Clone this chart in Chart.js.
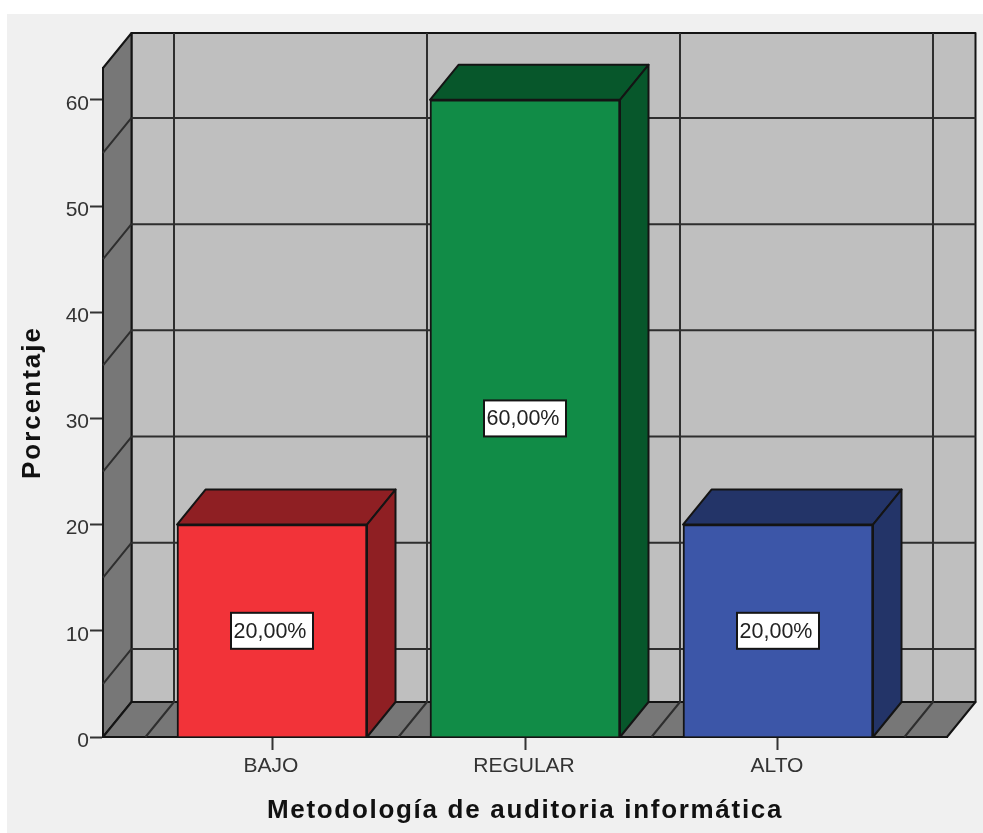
<!DOCTYPE html>
<html lang="es">
<head>
    <meta charset="UTF-8">
    <title>Metodología de auditoria informática</title>
    <script src="https://cdn.jsdelivr.net/npm/chart.js"></script>
    <style>
        html, body { margin: 0; padding: 0; background: #fff; overflow: hidden; }
        canvas { display: block; }
    </style>
</head>
<body>
    <canvas id="chart" width="983" height="833"></canvas>
    <script>
        const categories = ['BAJO', 'REGULAR', 'ALTO'];
        const porcentaje = [20, 60, 20];
        const valueLabels = ['20,00%', '60,00%', '20,00%'];
        const yTicks = [0, 10, 20, 30, 40, 50, 60];
        const wallGridValues = [5, 15, 25, 35, 45, 55];
        const categoryEdges = [-0.5, 0.5, 1.5, 2.5];

        const faceColors = ['#f23339', '#118c47', '#3c56a8'];
        const shadeColors = ['#8f1f23', '#07572b', '#233468'];

        const LINE = '#141414';
        const GRID = '#2e2e2e';
        const FONT = 'Liberation Sans, Arial, sans-serif';
        const DEPTH_X = 28.5;
        const DEPTH_Y = 35;

        function poly(ctx, points, fill) {
            ctx.beginPath();
            points.forEach((p, i) => i ? ctx.lineTo(p[0], p[1]) : ctx.moveTo(p[0], p[1]));
            ctx.closePath();
            ctx.fillStyle = fill;
            ctx.fill();
            ctx.stroke();
        }

        function spacedTitle(scale) {
            const drawTitle = scale.drawTitle;
            scale.drawTitle = function () {
                scale.ctx.save();
                scale.ctx.letterSpacing = scale.axis === 'y' ? '2px' : '1.7px';
                drawTitle.call(scale);
                scale.ctx.restore();
            };
        }

        const box3d = {
            id: 'box3d',
            beforeDraw(chart) {
                const ctx = chart.ctx;
                ctx.fillStyle = '#f0f0f0';
                ctx.fillRect(7, 14, chart.width - 7, chart.height - 14);
            },
            beforeDatasetsDraw(chart) {
                const ctx = chart.ctx;
                const { left, right, top, bottom } = chart.chartArea;
                const x = chart.scales.x;
                const y = chart.scales.y;
                ctx.save();
                ctx.strokeStyle = LINE;
                ctx.lineWidth = 2;
                ctx.lineJoin = 'round';

                // back wall, side wall, floor
                poly(ctx, [[left + DEPTH_X, top - DEPTH_Y], [right + DEPTH_X, top - DEPTH_Y], [right + DEPTH_X, bottom - DEPTH_Y], [left + DEPTH_X, bottom - DEPTH_Y]], '#bfbfbf');
                poly(ctx, [[left, top], [left + DEPTH_X, top - DEPTH_Y], [left + DEPTH_X, bottom - DEPTH_Y], [left, bottom]], '#777777');
                poly(ctx, [[left, bottom], [left + DEPTH_X, bottom - DEPTH_Y], [right + DEPTH_X, bottom - DEPTH_Y], [right, bottom]], '#777777');

                // grid lines running around the walls
                ctx.strokeStyle = GRID;
                wallGridValues.forEach(v => {
                    const py = y.getPixelForValue(v);
                    ctx.beginPath();
                    ctx.moveTo(left, py);
                    ctx.lineTo(left + DEPTH_X, py - DEPTH_Y);
                    ctx.lineTo(right + DEPTH_X, py - DEPTH_Y);
                    ctx.stroke();
                });
                categoryEdges.forEach(v => {
                    const px = x.getPixelForValue(v);
                    ctx.beginPath();
                    ctx.moveTo(px, bottom);
                    ctx.lineTo(px + DEPTH_X, bottom - DEPTH_Y);
                    ctx.lineTo(px + DEPTH_X, top - DEPTH_Y);
                    ctx.stroke();
                });

                // top and side faces of the bars
                ctx.strokeStyle = LINE;
                chart.getDatasetMeta(0).data.forEach((bar, i) => {
                    const l = bar.x - bar.width / 2;
                    const r = bar.x + bar.width / 2;
                    poly(ctx, [[l, bar.y], [l + DEPTH_X, bar.y - DEPTH_Y], [r + DEPTH_X, bar.y - DEPTH_Y], [r, bar.y]], shadeColors[i]);
                    poly(ctx, [[r, bar.y], [r + DEPTH_X, bar.y - DEPTH_Y], [r + DEPTH_X, bottom - DEPTH_Y], [r, bottom]], shadeColors[i]);
                });
                ctx.restore();
            },
            afterDatasetsDraw(chart) {
                const ctx = chart.ctx;
                const y = chart.scales.y;
                ctx.save();
                ctx.font = '21.5px ' + FONT;
                ctx.textAlign = 'center';
                ctx.textBaseline = 'middle';
                chart.getDatasetMeta(0).data.forEach((bar, i) => {
                    const cy = y.getPixelForValue(porcentaje[i] / 2);
                    ctx.fillStyle = '#fff';
                    ctx.strokeStyle = LINE;
                    ctx.lineWidth = 2;
                    ctx.fillRect(bar.x - 41, cy - 18, 82, 36);
                    ctx.strokeRect(bar.x - 41, cy - 18, 82, 36);
                    ctx.fillStyle = '#222';
                    ctx.fillText(valueLabels[i], bar.x - 2, cy + 1);
                });
                ctx.restore();
            }
        };

        new Chart(document.getElementById('chart').getContext('2d'), {
            type: 'bar',
            data: {
                datasets: [{
                    label: 'Porcentaje',
                    data: categories.map((c, i) => ({ x: i, y: porcentaje[i] })),
                    backgroundColor: faceColors,
                    borderColor: LINE,
                    borderWidth: 2,
                    barThickness: 190
                }]
            },
            options: {
                responsive: false,
                animation: false,
                layout: { padding: { top: 68, left: 0, right: 36, bottom: 0 } },
                plugins: { legend: { display: false }, tooltip: { enabled: false } },
                scales: {
                    x: {
                        type: 'linear',
                        offset: false,
                        min: -0.668,
                        max: 2.668,
                        afterBuildTicks: s => { s.ticks = categories.map((c, i) => ({ value: i })); },
                        afterFit: s => { s.height = 96; },
                        afterUpdate: spacedTitle,
                        ticks: {
                            callback: v => categories[v],
                            autoSkip: false,
                            maxRotation: 0,
                            padding: 4,
                            labelOffset: -1,
                            color: '#333',
                            font: { family: FONT, size: 21 }
                        },
                        grid: { offset: false, drawOnChartArea: false, tickLength: 13, tickColor: '#333', tickWidth: 2 },
                        border: { color: LINE, width: 2 },
                        title: {
                            display: true,
                            text: 'Metodología de auditoria informática',
                            color: '#111',
                            padding: { top: 0, bottom: 7 },
                            font: { family: FONT, size: 26, weight: 'bold' }
                        }
                    },
                    y: {
                        min: 0,
                        max: 63,
                        afterBuildTicks: s => { s.ticks = yTicks.map(v => ({ value: v })); },
                        afterFit: s => { s.width = 103; },
                        afterUpdate: spacedTitle,
                        ticks: {
                            padding: 1,
                            labelOffset: 4,
                            color: '#333',
                            font: { family: FONT, size: 21 }
                        },
                        grid: { drawOnChartArea: false, tickLength: 13, tickColor: '#333', tickWidth: 2 },
                        border: { color: LINE, width: 2 },
                        title: {
                            display: true,
                            text: 'Porcentaje',
                            color: '#111',
                            padding: { top: 17, bottom: 0 },
                            font: { family: FONT, size: 26, weight: 'bold' }
                        }
                    }
                }
            },
            plugins: [box3d]
        });
    </script>
</body>
</html>
